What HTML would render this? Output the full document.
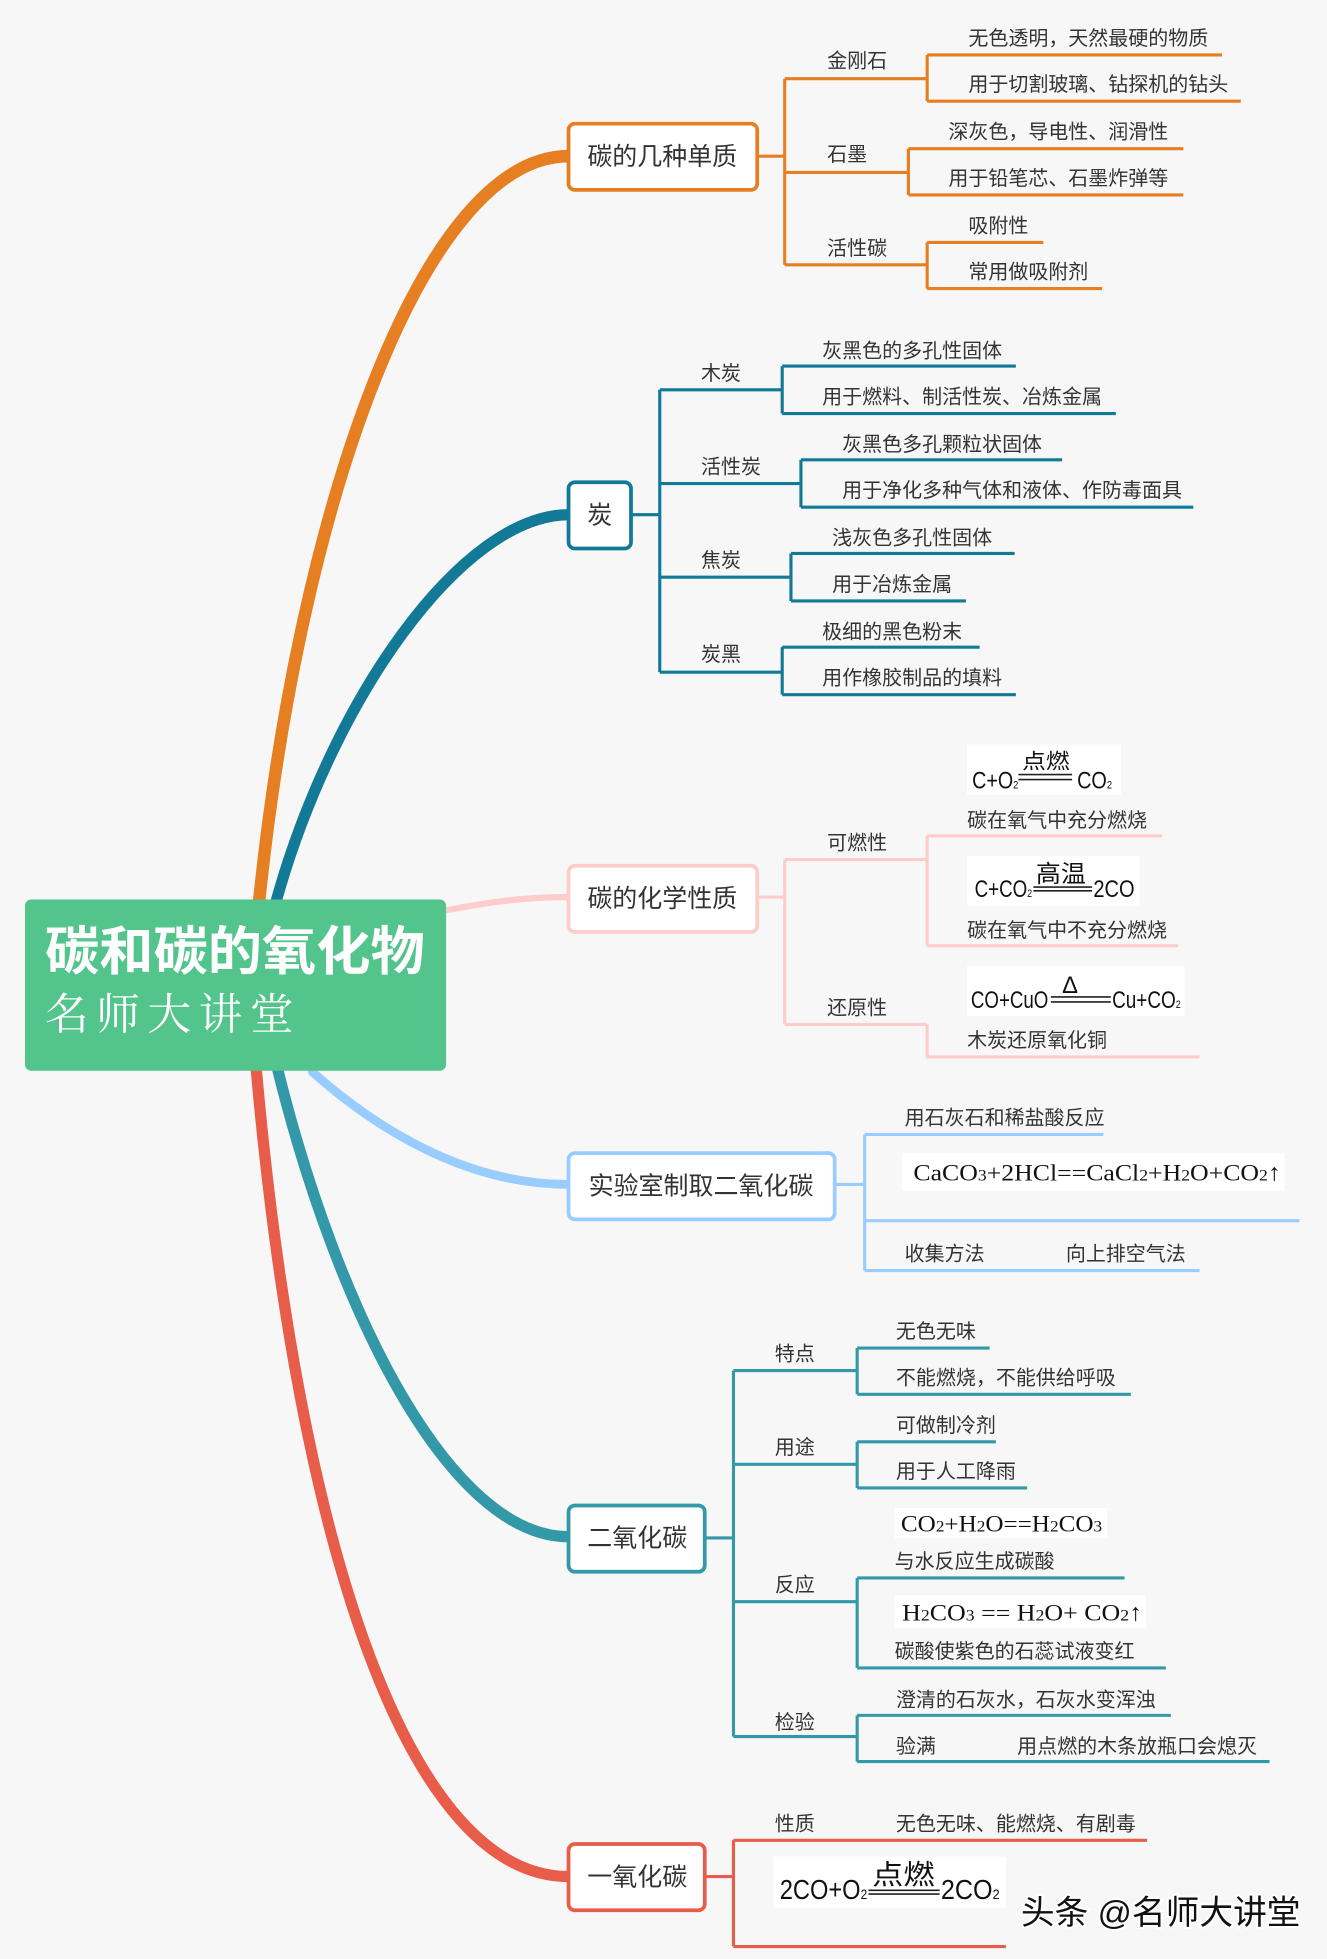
<!DOCTYPE html>
<html><head><meta charset="utf-8"><style>
html,body{margin:0;padding:0;background:#f7f7f7;}
svg{display:block;}
text{font-family:"Liberation Sans","Noto Sans CJK SC",sans-serif;fill:#333;}
.s{font-size:16px;}
.b{font-size:20px;}
.f{font-family:"Liberation Serif","Noto Serif CJK SC",serif;fill:#111;}
.n{font-family:"Liberation Sans","Noto Sans CJK SC",sans-serif;fill:#111;}
</style></head><body>
<svg width="1327" height="1959" viewBox="0 0 1062 1568" preserveAspectRatio="none" xmlns="http://www.w3.org/2000/svg">
<rect width="1062" height="1568" fill="#f7f7f7"/>
<g fill="none" stroke-linecap="round">
<path d="M207,725 C240,400 340,125 455,125" stroke="#e67e22" stroke-width="10"/>
<path d="M220,725 C265,560 370,412 455,412" stroke="#127a96" stroke-width="9"/>
<path d="M350,730 C390,722 420,718 455,718" stroke="#ffcccc" stroke-width="5"/>
<path d="M250,858 C320,920 390,948 455,948" stroke="#99ccff" stroke-width="7"/>
<path d="M222,855 C270,1050 360,1230 455,1230" stroke="#3399a8" stroke-width="9"/>
<path d="M205,855 C240,1250 330,1502 455,1502" stroke="#e85c4a" stroke-width="9"/>
</g>
<rect x="20" y="720" width="337" height="137" rx="5" fill="#52c48c"/>
<text x="36" y="776" textLength="304" lengthAdjust="spacingAndGlyphs" style="font-size:42px;font-weight:bold;fill:#fff">碳和碳的氧化物</text>
<text x="36" y="824" style="font-size:35px;fill:#fff;font-family:'Noto Serif CJK SC',serif;letter-spacing:6px">名师大讲堂</text>

<g fill="none" stroke="#e67e22" stroke-width="2.5" stroke-linejoin="round">
<path d="M606,125 H628 M628,63 V212 M628,63 H742 M628,138 H727 M628,212 H742"/>
<path d="M742,44 V81 M742,44 H978 M742,81 H993"/>
<path d="M727,119 V156 M727,119 H947 M727,156 H947"/>
<path d="M742,194 V231 M742,194 H835 M742,231 H882"/>
</g>
<rect x="455" y="99" width="151" height="53" rx="5" fill="#fff" stroke="#e67e22" stroke-width="3"/>
<text class="b" x="530" y="132" text-anchor="middle">碳的几种单质</text>
<g class="s">
<text x="662" y="54">金刚石</text><text x="662" y="129">石墨</text><text x="662" y="204">活性碳</text>
<text x="775" y="36">无色透明，天然最硬的物质</text>
<text x="775" y="73">用于切割玻璃、钻探机的钻头</text>
<text x="759" y="111">深灰色，导电性、润滑性</text>
<text x="759" y="148">用于铅笔芯、石墨炸弹等</text>
<text x="775" y="186">吸附性</text>
<text x="775" y="223">常用做吸附剂</text>
</g>

<g fill="none" stroke="#127a96" stroke-width="2.5" stroke-linejoin="round">
<path d="M505,412 H528 M528,312 V538 M528,312 H626 M528,387 H641 M528,462 H633 M528,538 H626"/>
<path d="M626,293 V331 M626,293 H813 M626,331 H893"/>
<path d="M641,368 V406 M641,368 H850 M641,406 H955"/>
<path d="M633,443 V481 M633,443 H812 M633,481 H773"/>
<path d="M626,518 V556 M626,518 H784 M626,556 H813"/>
</g>
<rect x="455" y="386" width="50" height="53" rx="5" fill="#fff" stroke="#127a96" stroke-width="3"/>
<text class="b" x="480" y="419" text-anchor="middle">炭</text>
<g class="s">
<text x="561" y="304">木炭</text><text x="561" y="379">活性炭</text><text x="561" y="454">焦炭</text><text x="561" y="529">炭黑</text>
<text x="658" y="286">灰黑色的多孔性固体</text>
<text x="658" y="323">用于燃料、制活性炭、冶炼金属</text>
<text x="674" y="361">灰黑色多孔颗粒状固体</text>
<text x="674" y="398">用于净化多种气体和液体、作防毒面具</text>
<text x="666" y="436">浅灰色多孔性固体</text>
<text x="666" y="473">用于冶炼金属</text>
<text x="658" y="511">极细的黑色粉末</text>
<text x="658" y="548">用作橡胶制品的填料</text>
</g>

<g fill="none" stroke="#ffcccc" stroke-width="2.5" stroke-linejoin="round">
<path d="M606,718 H628 M628,688 V820 M628,688 H742 M628,820 H742"/>
<path d="M742,669 V757 M742,669 H930 M742,757 H943"/>
<path d="M742,820 V846 H960"/>
</g>
<rect x="455" y="693" width="151" height="53" rx="5" fill="#fff" stroke="#ffcccc" stroke-width="3"/>
<text class="b" x="530" y="726" text-anchor="middle">碳的化学性质</text>
<rect x="774" y="596" width="123" height="40" fill="#fff"/>
<text class="n" x="778" y="631" textLength="37" lengthAdjust="spacingAndGlyphs" style="font-size:19px">C+O<tspan style="font-size:9px">2</tspan></text>
<text class="n" x="818" y="615" textLength="38" lengthAdjust="spacingAndGlyphs" style="font-size:17px">点燃</text>
<path d="M815,620 H858 M815,624 H858" stroke="#222" stroke-width="1.3"/>
<text class="n" x="862" y="631" textLength="28" lengthAdjust="spacingAndGlyphs" style="font-size:19px">CO<tspan style="font-size:9px">2</tspan></text>
<rect x="774" y="685" width="138" height="40" fill="#fff"/>
<text class="n" x="780" y="718" textLength="46" lengthAdjust="spacingAndGlyphs" style="font-size:19px">C+CO<tspan style="font-size:9px">2</tspan></text>
<text class="n" x="829" y="706" textLength="40" lengthAdjust="spacingAndGlyphs" style="font-size:19px">高温</text>
<path d="M827,710 H874 M827,713 H874" stroke="#222" stroke-width="1.3"/>
<text class="n" x="875" y="718" textLength="33" lengthAdjust="spacingAndGlyphs" style="font-size:19px">2CO</text>
<rect x="774" y="773" width="174" height="40" fill="#fff"/>
<text class="n" x="777" y="807" textLength="62" lengthAdjust="spacingAndGlyphs" style="font-size:19px">CO+CuO</text>
<text class="n" x="850" y="795" style="font-size:19px">Δ</text>
<path d="M841,798 H889 M841,802 H889" stroke="#222" stroke-width="1.3"/>
<text class="n" x="890" y="807" textLength="55" lengthAdjust="spacingAndGlyphs" style="font-size:19px">Cu+CO<tspan style="font-size:9px">2</tspan></text>
<g class="s">
<text x="662" y="680">可燃性</text><text x="662" y="812">还原性</text>
<text x="774" y="662">碳在氧气中充分燃烧</text>
<text x="774" y="750">碳在氧气中不充分燃烧</text>
<text x="774" y="838">木炭还原氧化铜</text>
</g>

<g fill="none" stroke="#99ccff" stroke-width="2.5" stroke-linejoin="round">
<path d="M668,948 H692 M692,908 V1017 M692,908 H883 M692,977 H1040 M692,1017 H960"/>
</g>
<rect x="455" y="923" width="213" height="53" rx="5" fill="#fff" stroke="#99ccff" stroke-width="3"/>
<text class="b" x="561" y="956" text-anchor="middle">实验室制取二氧化碳</text>
<rect x="722" y="923" width="306" height="30" fill="#fff"/>
<text class="f" x="731" y="945" textLength="294" lengthAdjust="spacingAndGlyphs" style="font-size:19px">CaCO<tspan style="font-size:13px">3</tspan>+2HCl==CaCl<tspan style="font-size:13px">2</tspan>+H<tspan style="font-size:13px">2</tspan>O+CO<tspan style="font-size:13px">2</tspan>↑</text>
<g class="s">
<text x="724" y="900">用石灰石和稀盐酸反应</text>
<text x="724" y="1009">收集方法</text><text x="853" y="1009">向上排空气法</text>
</g>

<g fill="none" stroke="#3399a8" stroke-width="2.5" stroke-linejoin="round">
<path d="M564,1231 H587 M587,1097 V1390 M587,1097 H686 M587,1172 H686 M587,1282 H686 M587,1390 H686"/>
<path d="M686,1079 V1116 M686,1079 H792 M686,1116 H905"/>
<path d="M686,1154 V1191 M686,1154 H797 M686,1191 H822"/>
<path d="M686,1263 V1335 M686,1263 H900 M686,1335 H933"/>
<path d="M686,1373 V1410 M686,1373 H937 M686,1410 H1016"/>
</g>
<rect x="455" y="1205" width="109" height="53" rx="5" fill="#fff" stroke="#3399a8" stroke-width="3"/>
<text class="b" x="510" y="1238" text-anchor="middle">二氧化碳</text>
<rect x="716" y="1207" width="170" height="24" fill="#fff"/>
<text class="f" x="721" y="1226" textLength="161" lengthAdjust="spacingAndGlyphs" style="font-size:19px">CO<tspan style="font-size:13px">2</tspan>+H<tspan style="font-size:13px">2</tspan>O==H<tspan style="font-size:13px">2</tspan>CO<tspan style="font-size:13px">3</tspan></text>
<rect x="716" y="1277" width="201" height="26" fill="#fff"/>
<text class="f" x="722" y="1297" textLength="192" lengthAdjust="spacingAndGlyphs" style="font-size:19px">H<tspan style="font-size:13px">2</tspan>CO<tspan style="font-size:13px">3</tspan> == H<tspan style="font-size:13px">2</tspan>O+ CO<tspan style="font-size:13px">2</tspan>↑</text>
<g class="s">
<text x="620" y="1089">特点</text><text x="620" y="1164">用途</text><text x="620" y="1274">反应</text><text x="620" y="1384">检验</text>
<text x="717" y="1071">无色无味</text>
<text x="717" y="1108">不能燃烧，不能供给呼吸</text>
<text x="717" y="1146">可做制冷剂</text>
<text x="717" y="1183">用于人工降雨</text>
<text x="716" y="1255">与水反应生成碳酸</text>
<text x="716" y="1327">碳酸使紫色的石蕊试液变红</text>
<text x="717" y="1366">澄清的石灰水，石灰水变浑浊</text>
<text x="717" y="1403">验满</text><text x="814" y="1403">用点燃的木条放瓶口会熄灭</text>
</g>

<g fill="none" stroke="#e85c4a" stroke-width="2.5" stroke-linejoin="round">
<path d="M564,1502 H587 M587,1473 V1558 M587,1473 H918 M587,1558 H805"/>
</g>
<rect x="455" y="1476" width="109" height="53" rx="5" fill="#fff" stroke="#e85c4a" stroke-width="3"/>
<text class="b" x="510" y="1509" text-anchor="middle">一氧化碳</text>
<rect x="619" y="1486" width="186" height="41" fill="#fff"/>
<text class="n" x="624" y="1520" textLength="70" lengthAdjust="spacingAndGlyphs" style="font-size:22px">2CO+O<tspan style="font-size:11px">2</tspan></text>
<text class="n" x="698" y="1508" textLength="50" lengthAdjust="spacingAndGlyphs" style="font-size:22px">点燃</text>
<path d="M695,1513 H752 M695,1516 H752" stroke="#222" stroke-width="1.3"/>
<text class="n" x="753" y="1520" textLength="47" lengthAdjust="spacingAndGlyphs" style="font-size:22px">2CO<tspan style="font-size:11px">2</tspan></text>
<g class="s">
<text x="620" y="1465">性质</text><text x="717" y="1465">无色无味、能燃烧、有剧毒</text>
</g>
<text x="817" y="1540" style="font-size:27px;fill:#111;stroke:#fff;stroke-width:3px;paint-order:stroke">头条 @名师大讲堂</text>
</svg>
</body></html>
